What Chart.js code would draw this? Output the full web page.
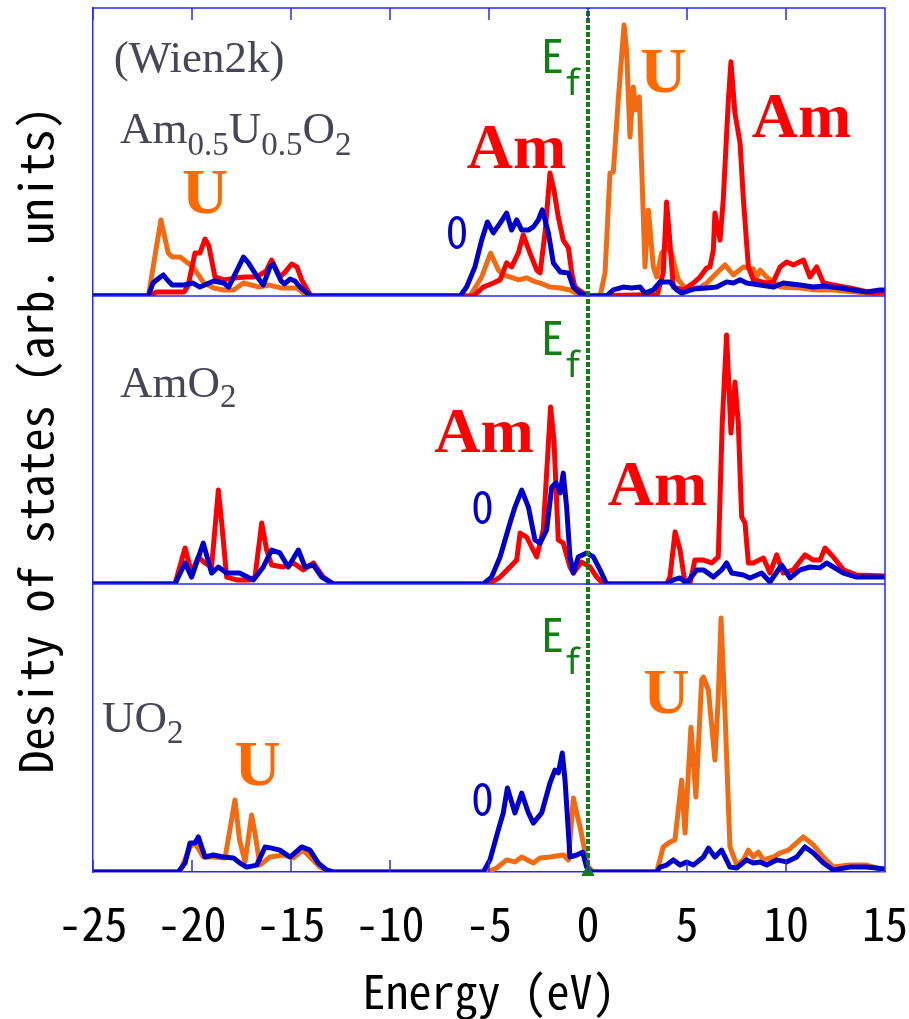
<!DOCTYPE html>
<html>
<head>
<meta charset="utf-8">
<script src="https://cdn.jsdelivr.net/npm/chart.js@4.4.1/dist/chart.umd.min.js"></script>
<style>
  html, body { margin: 0; padding: 0; background: #fff; }
</style>
</head>
<body>
<canvas id="dos" width="909" height="1019"></canvas>
<script>
// energy axis (eV)
const energyMin = -25;
const energyMax = 15;
const energyStep = 5;
const fermiEnergy = 0;

// DOS curves, [energy (eV), DOS (arb. units)]
// Am0.5U0.5O2
const amuoU = [[-25,0],[-22.2,0],[-21.57,26.4],[-21.2,14.9],[-21.0,13.5],[-20.6,13.5],[-20.27,11.8],[-19.95,10.1],[-19.4,4.5],[-18.9,2.8],[-18.4,2.1],[-17.9,2.1],[-17.4,4.5],[-16.6,3.1],[-16.1,3.8],[-15.5,2.8],[-14.7,2.8],[-14.2,0],
  [-6.5,0],[-5.96,0],[-5.37,6.6],[-4.92,14.9],[-4.53,9.0],[-4.28,7.3],[-3.94,6.6],[-3.5,5.6],[-3.1,6.3],[-2.76,5.2],[-2.42,4.5],[-1.92,3.1],[-1.4,2.8],[-0.91,2.1],[-0.4,0.3],[0.0,0],
  [0.61,0],[0.86,8.0],[1.11,42.7],[1.28,43.1],[1.53,68.1],[1.82,94.1],[1.95,85.4],[2.12,55.2],[2.29,72.6],[2.42,64.6],[2.59,69.1],[2.71,44.8],[2.88,10.1],[3.05,29.9],[3.3,10.1],[3.47,6.6],[3.72,14.9],[3.97,17.0],[4.22,14.9],[4.56,5.6],[4.98,2.1],[5.66,3.1],[6.0,4.5],[6.5,8.0],[6.92,10.8],[7.34,7.3],[7.85,10.1],[8.35,9.4],[8.52,6.6],[8.69,9.0],[9.02,6.6],[9.7,3.1],[10.71,2.8],[11.55,2.1],[12.4,2.1],[14.07,1.0],[15,1.0]];
const amuoAm = [[-25,0],[-22.1,0],[-21.8,1.4],[-20.4,1.4],[-20.2,3.5],[-19.85,14.9],[-19.6,14.9],[-19.34,19.8],[-19.15,17.4],[-18.84,6.6],[-18.4,5.6],[-17.74,6.3],[-17.3,6.6],[-16.9,6.6],[-16.57,7.3],[-16.25,8.7],[-15.98,12.5],[-15.56,6.6],[-15.3,8.3],[-14.97,11.1],[-14.7,10.1],[-14.46,5.6],[-14.0,0],
  [-5.79,0],[-5.29,3.1],[-4.78,4.5],[-4.44,5.6],[-4.11,11.5],[-3.86,10.1],[-3.52,14.9],[-3.27,21.2],[-2.93,14.9],[-2.59,9.0],[-2.42,8.0],[-2.17,21.9],[-1.92,42.7],[-1.72,36.8],[-1.5,27.4],[-1.25,19.4],[-0.99,16.7],[-0.82,8.0],[-0.66,3.1],[-0.24,1.0],[0.1,0],
  [3.5,0.5],[3.8,8.0],[3.97,32.6],[4.1,21.9],[4.31,3.1],[4.81,2.1],[5.32,4.5],[5.66,6.6],[5.99,9.7],[6.16,10.1],[6.33,16.0],[6.41,28.8],[6.67,19.4],[6.83,33.3],[7.09,68.1],[7.22,81.3],[7.42,63.5],[7.68,53.1],[7.85,33.3],[8.1,10.1],[8.35,5.6],[9.02,4.5],[9.36,4.9],[9.7,10.1],[10.03,11.8],[10.37,10.8],[10.88,12.5],[11.21,6.6],[11.55,10.1],[11.89,4.5],[12.39,3.8],[13.23,2.8],[14.41,1.0],[15,1.4]];
const amuoO = [[-25,0],[-22.2,0],[-21.97,4.5],[-21.6,6.6],[-21.45,7.3],[-21.2,5.2],[-21.0,3.8],[-20.4,3.8],[-19.95,4.5],[-19.6,3.1],[-18.9,5.2],[-18.4,4.5],[-18.15,3.1],[-17.4,13.5],[-17.15,11.5],[-16.7,6.6],[-16.4,3.8],[-16.06,10.1],[-15.9,11.1],[-15.5,5.2],[-15.33,4.2],[-15.05,5.9],[-14.8,5.2],[-14.5,2.8],[-14.0,0],
  [-6.46,0],[-6.13,3.1],[-5.71,10.1],[-5.37,19.4],[-5.08,25.7],[-4.78,21.9],[-4.44,25.3],[-4.11,28.8],[-3.86,22.9],[-3.6,26.4],[-3.35,22.9],[-3.01,22.9],[-2.76,24.0],[-2.51,26.4],[-2.31,29.9],[-2.0,21.9],[-1.75,11.5],[-1.4,8.3],[-0.99,8.0],[-0.74,3.1],[-0.4,1.0],[-0.05,0],
  [0.94,0],[1.28,2.1],[1.78,3.1],[2.2,2.8],[2.63,3.1],[2.88,1.0],[3.3,2.1],[3.64,4.9],[4.14,4.9],[4.48,2.1],[4.73,1.0],[5.32,2.4],[5.99,2.8],[6.5,3.1],[7.0,4.9],[7.34,4.5],[7.68,5.6],[8.01,4.5],[8.69,3.8],[9.36,3.1],[9.86,4.5],[10.71,3.8],[11.38,3.1],[11.89,3.5],[12.73,2.8],[14.07,1.4],[14.75,2.1],[15,2.1]];

// AmO2
const amo2Am = [[-25,0],[-20.86,0],[-20.35,12.5],[-20.02,3.8],[-19.68,9.4],[-19.35,7.3],[-19.01,5.9],[-18.67,32.6],[-18.5,21.2],[-18.25,2.4],[-17.75,1.4],[-17.07,1.4],[-16.82,2.4],[-16.48,21.2],[-16.23,11.8],[-15.98,6.6],[-15.39,5.9],[-14.88,7.3],[-14.38,4.9],[-13.87,7.3],[-13.37,2.4],[-12.86,0],
  [-5.0,0],[-4.44,2.4],[-3.94,5.9],[-3.6,8.3],[-3.43,17.7],[-3.1,16.3],[-2.59,9.4],[-2.26,18.8],[-1.89,61.5],[-1.72,50.0],[-1.5,15.3],[-1.25,14.2],[-0.91,5.9],[-0.74,3.8],[-0.32,7.6],[0.1,5.9],[0.44,2.4],[0.77,0],
  [3.97,0],[4.14,2.4],[4.4,18.1],[4.65,11.8],[4.9,0.3],[5.15,0.3],[5.4,8.3],[5.83,8.3],[6.25,7.3],[6.58,9.4],[6.78,55.9],[7.0,86.5],[7.22,52.4],[7.42,70.1],[7.59,55.9],[7.76,23.3],[7.93,21.2],[8.1,7.3],[8.35,7.3],[8.86,9.0],[9.19,3.8],[9.53,10.1],[9.86,3.8],[10.37,4.9],[10.96,10.1],[11.38,8.3],[11.72,8.3],[11.97,12.5],[12.39,9.4],[12.9,4.9],[13.57,3.1],[15,2.8]];
const amo2O = [[-25,0],[-20.86,0],[-20.35,7.3],[-20.02,2.4],[-19.43,14.2],[-19.01,3.8],[-18.67,5.9],[-18.25,3.8],[-17.6,3.8],[-16.9,1.4],[-16.4,5.9],[-15.98,11.8],[-15.56,10.8],[-15.14,5.9],[-14.63,11.8],[-14.29,5.9],[-13.87,6.6],[-13.45,2.4],[-12.86,0],
  [-5.29,0],[-4.87,2.4],[-4.44,9.4],[-3.94,21.2],[-3.69,26.7],[-3.35,32.6],[-3.01,26.7],[-2.68,15.3],[-2.42,14.2],[-2.09,18.8],[-1.83,33.7],[-1.62,35.1],[-1.41,31.6],[-1.25,38.5],[-1.08,26.7],[-0.91,9.4],[-0.74,3.8],[-0.49,9.4],[-0.07,10.8],[0.27,9.4],[0.61,4.9],[0.94,0],
  [3.97,0],[4.31,1.4],[4.65,2.1],[4.98,0.3],[5.49,4.9],[5.83,4.9],[6.33,2.4],[6.75,4.9],[7.0,7.3],[7.26,3.8],[7.85,3.1],[8.18,2.1],[8.77,3.8],[9.19,0.7],[9.78,6.6],[10.2,2.1],[10.71,4.9],[11.21,5.9],[11.72,5.6],[12.05,7.3],[12.39,5.9],[12.9,3.8],[13.57,2.4],[15,2.4]];

// UO2
const uo2U = [[-25,0],[-20.61,0],[-20.1,8.7],[-19.85,10.1],[-19.43,5.2],[-18.92,5.2],[-18.33,4.9],[-17.83,25.0],[-17.6,11.1],[-17.32,3.5],[-16.99,19.8],[-16.82,13.5],[-16.57,2.4],[-16.06,5.2],[-15.39,5.9],[-14.88,4.9],[-14.38,7.6],[-14.04,5.2],[-13.54,1.7],[-13.03,0],
  [-5.12,0],[-4.61,1.4],[-4.11,4.2],[-3.69,3.5],[-3.35,5.2],[-2.76,3.1],[-2.42,4.9],[-1.92,5.2],[-1.25,5.9],[-0.99,4.2],[-0.74,25.7],[-0.57,20.5],[-0.4,15.6],[-0.2,8.7],[0.02,1.7],[0.27,0],
  [3.47,0],[3.8,8.7],[4.14,10.4],[4.39,11.1],[4.73,31.9],[4.9,13.5],[5.2,50.3],[5.45,26.0],[5.74,66.7],[5.83,67.7],[6.08,63.2],[6.41,38.9],[6.58,60.8],[6.72,88.2],[6.92,55.2],[7.17,8.7],[7.51,2.4],[7.85,4.2],[8.1,7.6],[8.35,5.2],[8.6,6.9],[8.86,4.2],[9.36,5.2],[9.7,6.6],[10.12,7.6],[10.88,12.2],[11.38,9.4],[11.89,5.2],[12.39,1.7],[13.23,2.4],[14.07,2.4],[15,0.7]];
const uo2O = [[-25,0],[-20.69,0],[-20.35,3.1],[-20.1,10.1],[-19.85,10.1],[-19.68,12.2],[-19.34,5.2],[-18.92,5.9],[-18.42,5.2],[-17.91,4.9],[-17.58,3.1],[-17.24,1.7],[-16.73,2.4],[-16.31,8.7],[-15.98,8.3],[-15.56,7.6],[-15.05,5.2],[-14.46,8.7],[-14.04,7.6],[-13.62,3.1],[-13.2,0.7],[-12.86,0],
  [-5.29,0],[-4.95,4.2],[-4.53,14.6],[-4.28,20.5],[-4.07,29.2],[-3.69,20.5],[-3.35,27.4],[-3.01,20.5],[-2.76,17.0],[-2.34,20.5],[-1.92,30.9],[-1.67,35.4],[-1.5,34.4],[-1.3,41.3],[-1.16,31.9],[-0.91,5.2],[-0.57,5.9],[-0.27,6.9],[-0.07,1.7],[0.17,0],
  [3.47,0],[3.64,1.7],[3.97,2.4],[4.31,4.2],[4.65,2.4],[4.98,3.5],[5.32,2.4],[5.83,5.2],[6.08,8.3],[6.41,5.2],[6.75,7.6],[7.17,1.7],[7.51,1.4],[8.01,4.2],[8.35,3.1],[8.69,3.5],[9.02,2.4],[9.53,4.2],[10.03,3.5],[10.54,5.2],[10.96,8.7],[11.38,6.6],[11.89,3.1],[12.39,0.7],[13.23,1.7],[14.07,1.7],[15,1.0]];

const orange = '#f26b12';
const red = '#ff0000';
const blue = '#0000cc';
const green = '#0e7f12';
const frameBlue = '#2a2aee';
const grey = '#464656';
const gothic = '"Noto Sans Mono CJK JP", "DejaVu Sans Mono", monospace';
const serif = '"Liberation Serif", "Times New Roman", serif';

const formula = `45px ${serif}`;
const formulaSub = `33px ${serif}`;
const big = `bold 64px ${serif}`;
const efMain = `46px ${gothic}`;
const efSub = `35px ${gothic}`;
const oFont = `42px ${gothic}`;

// text on the panels: x in eV, y in panel DOS units
const notes = [
  {axis: 'yA', x: -23.95, y: 77.8, color: grey, parts: [['(Wien2k)', formula]]},
  {axis: 'yA', x: -23.64, y: 53.1, color: grey, parts: [['Am', formula], ['0.5', formulaSub, 12], ['U', formula], ['0.5', formulaSub, 12], ['O', formula], ['2', formulaSub, 12]]},
  {axis: 'yB', x: -23.64, y: 64.9, color: grey, parts: [['AmO', formula], ['2', formulaSub, 10]]},
  {axis: 'yC', x: -24.55, y: 48.6, color: grey, parts: [['UO', formula], ['2', formulaSub, 11]]},
  {axis: 'yA', x: -19.34, y: 28.8, color: '#ff6a00', center: true, parts: [['U', big]]},
  {axis: 'yA', x: -3.61, y: 44.4, color: red, center: true, parts: [['Am', big]]},
  {axis: 'yA', x: 3.81, y: 70.8, color: '#ff6a00', center: true, parts: [['U', big]]},
  {axis: 'yA', x: 10.78, y: 55.2, color: red, center: true, parts: [['Am', big]]},
  {axis: 'yA', x: -6.62, y: 16.7, color: blue, center: true, parts: [['O', oFont]]},
  {axis: 'yB', x: -5.25, y: 45.8, color: red, center: true, parts: [['Am', big]]},
  {axis: 'yB', x: 3.51, y: 27.4, color: red, center: true, parts: [['Am', big]]},
  {axis: 'yB', x: -5.33, y: 21.2, color: blue, center: true, parts: [['O', oFont]]},
  {axis: 'yC', x: -16.69, y: 30.2, color: '#ff6a00', center: true, parts: [['U', big]]},
  {axis: 'yC', x: 3.96, y: 55.2, color: '#ff6a00', center: true, parts: [['U', big]]},
  {axis: 'yC', x: -5.33, y: 19.8, color: blue, center: true, parts: [['O', oFont]]},
  {axis: 'yA', x: -2.37, y: 77.4, color: green, parts: [['E', efMain], ['f', efSub, 22]]},
  {axis: 'yB', x: -2.37, y: 79.5, color: green, parts: [['E', efMain], ['f', efSub, 22]]},
  {axis: 'yC', x: -2.37, y: 76.4, color: green, parts: [['E', efMain], ['f', efSub, 22]]},
];

const pts = arr => arr.map(([e, d]) => ({x: e, y: d}));

function dosLine(data, color, axis, order) {
  return {
    data: pts(data),
    yAxisID: axis,
    borderColor: color,
    borderWidth: 5,
    borderJoinStyle: 'round',
    pointRadius: 0,
    tension: 0,
    fill: false,
    order: order
  };
}

function fermiLine(axis) {
  return {
    data: [{x: fermiEnergy, y: 0}, {x: fermiEnergy, y: 100}],
    yAxisID: axis,
    borderColor: green,
    borderWidth: 4,
    borderDash: [5, 2],
    pointRadius: 0,
    order: 0
  };
}

const notePlugin = {
  id: 'notes',
  afterDatasetsDraw(chart) {
    const {ctx, scales} = chart;
    ctx.save();
    ctx.textBaseline = 'alphabetic';
    ctx.textAlign = 'left';
    notes.forEach(n => {
      let x = scales.x.getPixelForValue(n.x);
      const y = scales[n.axis].getPixelForValue(n.y);
      const widths = n.parts.map(p => { ctx.font = p[1]; return ctx.measureText(p[0]).width; });
      if (n.center) x -= widths.reduce((a, b) => a + b, 0) / 2;
      ctx.fillStyle = n.color;
      n.parts.forEach((p, i) => {
        ctx.font = p[1];
        ctx.fillText(p[0], x, y + (p[2] || 0));
        x += widths[i];
      });
    });
    ctx.restore();
  }
};

const framePlugin = {
  id: 'frame',
  afterDraw(chart) {
    const {ctx, chartArea: a, scales} = chart;
    ctx.save();
    ctx.strokeStyle = frameBlue;
    ctx.lineWidth = 1.5;
    ctx.beginPath();
    ctx.moveTo(a.left, a.top);
    ctx.lineTo(a.right, a.top);
    ctx.lineTo(a.right, a.bottom);
    ['yA', 'yB'].forEach(id => {
      const yb = scales[id].getPixelForValue(0);
      ctx.moveTo(a.left, yb);
      ctx.lineTo(a.right, yb);
    });
    scales.x.ticks.forEach(t => {
      const px = scales.x.getPixelForValue(t.value);
      ctx.moveTo(px, a.top);
      ctx.lineTo(px, a.top + 12);
      ctx.moveTo(px, a.bottom);
      ctx.lineTo(px, a.bottom - 12);
    });
    ctx.stroke();
    ctx.restore();
  }
};

function panelAxis(weight, extra) {
  return Object.assign({
    type: 'linear',
    position: 'left',
    stack: 'dos',
    stackWeight: 1,
    weight: weight,
    min: 0,
    max: 100,
    ticks: {display: false},
    grid: {display: false},
    border: {color: frameBlue, width: 1.5},
    afterFit: s => { s.width = 93; }
  }, extra || {});
}

new Chart(document.getElementById('dos'), {
  type: 'line',
  data: {
    datasets: [
      dosLine(amuoO, blue, 'yA', 1),
      dosLine(amuoAm, red, 'yA', 2),
      dosLine(amuoU, orange, 'yA', 3),
      dosLine(amo2O, blue, 'yB', 1),
      dosLine(amo2Am, red, 'yB', 2),
      dosLine(uo2O, blue, 'yC', 1),
      dosLine(uo2U, orange, 'yC', 3),
      fermiLine('yA'),
      fermiLine('yB'),
      fermiLine('yC'),
      {
        data: [{x: fermiEnergy, y: 0}],
        yAxisID: 'yC',
        showLine: false,
        pointStyle: 'triangle',
        pointRadius: 7,
        pointBackgroundColor: green,
        pointBorderColor: green,
        clip: false,
        order: 0
      }
    ]
  },
  options: {
    responsive: false,
    animation: false,
    layout: {padding: {top: 8, right: 24, left: 0, bottom: 0}},
    plugins: {legend: {display: false}, tooltip: {enabled: false}},
    scales: {
      x: {
        type: 'linear',
        min: energyMin,
        max: energyMax,
        ticks: {stepSize: energyStep, color: '#000', padding: 16, font: {family: gothic, size: 46}},
        grid: {display: false},
        border: {color: frameBlue, width: 1.5},
        title: {display: true, text: 'Energy (eV)', color: '#000', font: {family: gothic, size: 46}, padding: {top: 0, bottom: 0}},
        afterFit: s => { s.height = 147; s.paddingLeft = 0; s.paddingRight = 0; }
      },
      yA: panelAxis(3),
      yB: panelAxis(2, {
        title: {display: true, text: 'Desity of states (arb. units)', color: '#000', font: {family: gothic, size: 46}, padding: {top: 8, bottom: 0}}
      }),
      yC: panelAxis(1)
    }
  },
  plugins: [notePlugin, framePlugin]
});
</script>
</body>
</html>
